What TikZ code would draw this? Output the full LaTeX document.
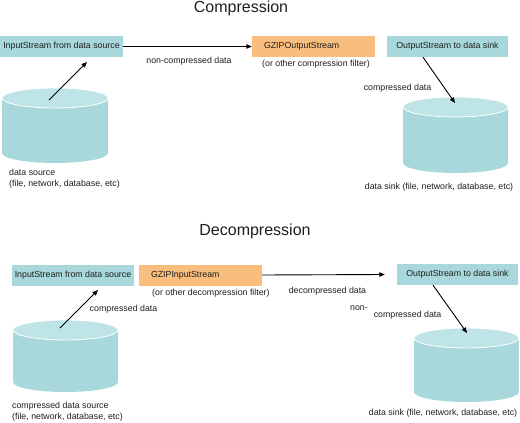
\documentclass[tikz,border=0pt]{standalone}
\usepackage{fontspec}
\setmainfont{Liberation Sans}
\usetikzlibrary{arrows.meta}
\definecolor{teal1}{HTML}{A8D8DC}
\definecolor{tealtop}{HTML}{BFE4E7}
\definecolor{orng}{HTML}{F9BE7E}
\definecolor{txt}{HTML}{1E1E1E}
\newcommand\cylsh[4]{%
  \fill[teal1] (#1-#4,#2) rectangle (#1+#4,#3);
  \fill[teal1] (#1,#3) ellipse [x radius=#4, y radius=10];
  \filldraw[fill=tealtop, draw=white, line width=0.8pt] (#1,#2) ellipse [x radius=#4, y radius=10];
}
\tikzset{
 smallfont/.style={font=\fontsize{8.8}{10.8}\selectfont},
 box/.style={fill=teal1, minimum height=21pt, inner sep=0pt, smallfont, text=txt},
 filt/.style={fill=orng, minimum height=21pt, inner xsep=12pt, inner ysep=0pt, text width=99pt, align=left, smallfont, text=txt},
 lbl/.style={inner sep=0pt, smallfont, text=txt},
 ttl/.style={inner sep=0pt, font=\fontsize{16}{19}\selectfont, text=txt},
 conn/.style={-{Triangle[length=5.5pt,width=4.5pt]}, line width=0.9pt, black},
}
\begin{document}
\begin{tikzpicture}[x=1pt,y=-1pt]
\useasboundingbox (0,0) rectangle (520,423);
% ---------- Compression ----------
\node[ttl] (t1) at (241,8) {Compression};
\node[box, minimum width=123pt] (inA) at (61.5,46.5) {InputStream from data source};
\node[filt] (gzA) at (313.5,46.5) {GZIPOutputStream};
\node[box, minimum width=121pt] (outA) at (447.5,46.5) {OutputStream to data sink};
\cylsh{55}{98}{153}{53}
\cylsh{455.5}{107}{163}{52.5}
\coordinate (srcA) at (49,100);
\coordinate (inAp) at (87,62);
\coordinate (sinkA) at (455,103);
\draw[conn] (srcA) -- (inAp);
\draw[conn] (inA.east) -- (gzA.west);
\draw[conn] ([xshift=-24.5pt]outA.south) -- (sinkA);
\node[lbl] (l1) at (189,61) {non-compressed data};
\node[lbl, anchor=west] (l2) at (262,64) {(or other compression filter)};
\node[lbl] (l3) at (397.5,88) {compressed data};
\node[lbl, anchor=north west, align=left] (l4) at (9,169) {data source\\(file, network, database, etc)};
\node[lbl] (l5) at (439,187) {data sink (file, network, database, etc)};
% ---------- Decompression ----------
\node[ttl] (t2) at (255,231) {Decompression};
\node[box, minimum width=122pt] (inB) at (73,275) {InputStream from data source};
\node[filt] (gzB) at (200.5,275) {GZIPInputStream};
\node[box, minimum width=121pt] (outB) at (457.5,274.5) {OutputStream to data sink};
\cylsh{65.5}{330}{382}{52.5}
\cylsh{466.5}{338}{392}{52.5}
\coordinate (srcB) at (60,328);
\coordinate (inBp) at (98,290);
\coordinate (sinkB) at (467,333);
\draw[conn] (srcB) -- (inBp);
\draw[conn] (gzB.east) -- ([xshift=-12pt]outB.west);
\draw[conn] ([xshift=-24.5pt]outB.south) -- (sinkB);
\node[lbl] (m1) at (123.5,309) {compressed data};
\node[lbl, anchor=west] (m2) at (152,293) {(or other decompression filter)};
\node[lbl] (m3) at (327.5,291) {decompressed data};
\node[lbl] (m4) at (359,308) {non-};
\node[lbl] (m5) at (407.5,315) {compressed data};
\node[lbl, anchor=north west, align=left] (m6) at (12,402) {compressed data source\\(file, network, database, etc)};
\node[lbl] (m7) at (443,413) {data sink (file, network, database, etc)};
\end{tikzpicture}
\end{document}
